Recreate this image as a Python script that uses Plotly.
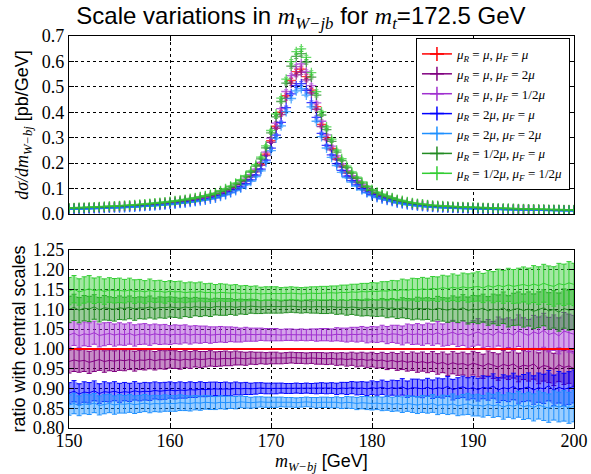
import numpy as np
import plotly.graph_objects as go
from plotly.subplots import make_subplots

# bin centres, 0.5 GeV bins
mass = np.arange(150.0, 200.01, 0.5)

# central prediction dsigma/dm [pb/GeV]
central = [
    0.0210, 0.0216, 0.0222, 0.0228, 0.0235, 0.0242, 0.0250, 0.0258, 0.0266, 0.0275, 0.0285,
    0.0295, 0.0306, 0.0318, 0.0331, 0.0345, 0.0360, 0.0376, 0.0393, 0.0412, 0.0432,
    0.0454, 0.0478, 0.0504, 0.0532, 0.0563, 0.0597, 0.0634, 0.0675, 0.0720, 0.0800,
    0.0870, 0.0960, 0.1060, 0.1180, 0.1320, 0.1490, 0.1700, 0.1960, 0.2350, 0.2880,
    0.3450, 0.4000, 0.4650, 0.5250, 0.5600, 0.5700, 0.5400, 0.4870, 0.4220, 0.3520,
    0.3000, 0.2580, 0.2200, 0.1900, 0.1650, 0.1450, 0.1270, 0.1100, 0.0960, 0.0840,
    0.0750, 0.0680, 0.0620, 0.0560, 0.0500, 0.0460, 0.0420, 0.0390, 0.0360, 0.0340,
    0.0320, 0.0300, 0.0290, 0.0280, 0.0270, 0.0260, 0.0252, 0.0245, 0.0238, 0.0232,
    0.0226, 0.0220, 0.0214, 0.0208, 0.0203, 0.0198, 0.0193, 0.0188, 0.0183, 0.0178,
    0.0174, 0.0170, 0.0166, 0.0162, 0.0158, 0.0154, 0.0151, 0.0148, 0.0145, 0.0142,
]

# relative statistical uncertainty per bin
rel_err = [
    .030, .030, .029, .029, .029, .028, .028, .028, .027, .027, .027,
    .026, .026, .026, .025, .025, .025, .024, .024, .024, .023,
    .023, .023, .022, .022, .021, .021, .020, .020, .019, .019,
    .019, .018, .018, .017, .017, .016, .016, .015, .015, .015,
    .015, .014, .014, .014, .014, .014, .014, .014, .015, .015,
    .015, .015, .016, .016, .017, .017, .018, .018, .019, .019,
    .019, .020, .021, .021, .022, .023, .023, .024, .025, .025,
    .025, .026, .027, .027, .028, .029, .029, .030, .031, .031,
    .032, .032, .033, .034, .035, .036, .036, .037, .038, .038,
    .039, .040, .041, .041, .042, .043, .044, .045, .046, .046,
]

# ratios to the central scale choice
ratio_r1_f2 = [
    .968, .972, .969, .971, .966, .970, .973, .968, .971, .969, .972,
    .970, .973, .969, .972, .971, .974, .970, .973, .972, .974,
    .973, .971, .974, .972, .975, .973, .974, .976, .974, .975,
    .976, .975, .977, .976, .975, .977, .976, .977, .976, .977,
    .977, .976, .977, .978, .977, .977, .976, .977, .976, .976,
    .975, .976, .974, .975, .973, .975, .972, .974, .971, .973,
    .970, .972, .968, .971, .967, .970, .966, .969, .965, .968,
    .964, .968, .962, .966, .960, .965, .961, .963, .958, .964,
    .960, .956, .963, .958, .954, .961, .957, .962, .953, .959,
    .956, .962, .951, .958, .955, .948, .960, .953, .957, .950,
]
ratio_r1_fh = [
    1.035, 1.040, 1.033, 1.038, 1.036, 1.041, 1.034, 1.037, 1.039, 1.035, 1.038,
    1.036, 1.039, 1.034, 1.037, 1.038, 1.035, 1.038, 1.036, 1.037, 1.035,
    1.037, 1.036, 1.038, 1.035, 1.037, 1.036, 1.037, 1.035, 1.036, 1.037,
    1.036, 1.037, 1.036, 1.035, 1.037, 1.036, 1.036, 1.037, 1.036, 1.036,
    1.036, 1.035, 1.036, 1.036, 1.035, 1.036, 1.035, 1.036, 1.035, 1.036,
    1.036, 1.035, 1.037, 1.036, 1.035, 1.037, 1.036, 1.038, 1.035, 1.037,
    1.036, 1.039, 1.035, 1.038, 1.037, 1.034, 1.039, 1.036, 1.038, 1.035,
    1.039, 1.036, 1.041, 1.035, 1.038, 1.042, 1.036, 1.040, 1.034, 1.039,
    1.043, 1.036, 1.040, 1.034, 1.044, 1.038, 1.041, 1.035, 1.046, 1.039,
    1.034, 1.043, 1.038, 1.047, 1.036, 1.041, 1.033, 1.045, 1.040, 1.037,
]
ratio_r2_f1 = [
    .888, .893, .886, .891, .889, .894, .887, .892, .890, .893, .889,
    .892, .890, .894, .891, .893, .892, .895, .893, .894, .896,
    .894, .896, .895, .897, .896, .898, .897, .898, .899, .898,
    .899, .898, .900, .899, .900, .899, .900, .901, .900, .900,
    .900, .901, .900, .900, .901, .900, .901, .900, .900, .901,
    .900, .901, .899, .901, .900, .902, .900, .901, .899, .902,
    .900, .903, .899, .902, .900, .904, .898, .902, .901, .899,
    .903, .898, .902, .900, .905, .897, .901, .904, .899, .902,
    .897, .903, .900, .906, .896, .902, .899, .905, .897, .901,
    .904, .896, .902, .899, .907, .895, .903, .898, .901, .905,
]
ratio_r2_f2 = [
    .858, .862, .856, .861, .859, .863, .857, .860, .862, .858, .861,
    .860, .862, .859, .861, .863, .860, .862, .861, .863, .862,
    .862, .864, .863, .862, .864, .863, .865, .864, .863, .865,
    .864, .865, .864, .866, .865, .864, .865, .866, .865, .865,
    .865, .866, .865, .865, .864, .865, .866, .865, .864, .865,
    .865, .864, .865, .863, .865, .864, .862, .864, .863, .862,
    .863, .861, .863, .860, .862, .859, .862, .860, .858, .861,
    .859, .862, .857, .860, .858, .861, .856, .859, .861, .857,
    .858, .855, .860, .856, .859, .853, .858, .855, .860, .854,
    .857, .852, .858, .854, .850, .857, .853, .856, .851, .855,
]
ratio_rh_f1 = [
    1.100, 1.105, 1.098, 1.103, 1.101, 1.106, 1.099, 1.104, 1.102, 1.100, 1.104,
    1.102, 1.105, 1.101, 1.104, 1.103, 1.106, 1.102, 1.105, 1.104, 1.106,
    1.105, 1.103, 1.106, 1.104, 1.107, 1.105, 1.106, 1.104, 1.107, 1.106,
    1.106, 1.107, 1.105, 1.107, 1.106, 1.108, 1.107, 1.106, 1.107, 1.107,
    1.107, 1.106, 1.107, 1.108, 1.107, 1.106, 1.107, 1.106, 1.107, 1.106,
    1.106, 1.107, 1.105, 1.106, 1.104, 1.106, 1.105, 1.103, 1.105, 1.104,
    1.103, 1.105, 1.102, 1.104, 1.101, 1.104, 1.102, 1.100, 1.103, 1.101,
    1.102, 1.099, 1.103, 1.100, 1.098, 1.102, 1.099, 1.104, 1.097, 1.101,
    1.099, 1.103, 1.096, 1.101, 1.098, 1.104, 1.095, 1.100, 1.102, 1.097,
    1.101, 1.095, 1.099, 1.104, 1.096, 1.100, 1.093, 1.102, 1.098, 1.100,
]
ratio_rh_fh = [
    1.146, 1.151, 1.144, 1.149, 1.152, 1.147, 1.150, 1.145, 1.149, 1.147, 1.148,
    1.146, 1.149, 1.145, 1.147, 1.144, 1.148, 1.145, 1.146, 1.143, 1.146,
    1.144, 1.145, 1.142, 1.144, 1.143, 1.145, 1.142, 1.143, 1.141, 1.143,
    1.142, 1.141, 1.142, 1.140, 1.141, 1.140, 1.141, 1.139, 1.140, 1.140,
    1.140, 1.139, 1.140, 1.141, 1.140, 1.139, 1.140, 1.141, 1.140, 1.141,
    1.141, 1.142, 1.141, 1.143, 1.142, 1.144, 1.143, 1.145, 1.144, 1.146,
    1.145, 1.147, 1.146, 1.149, 1.147, 1.150, 1.148, 1.151, 1.149, 1.152,
    1.150, 1.153, 1.151, 1.155, 1.152, 1.156, 1.153, 1.157, 1.154, 1.156,
    1.158, 1.154, 1.160, 1.156, 1.161, 1.157, 1.162, 1.158, 1.160, 1.163,
    1.159, 1.164, 1.160, 1.166, 1.161, 1.158, 1.165, 1.162, 1.167, 1.163,
]

labels = [
    "<i>μ<sub>R</sub></i> = <i>μ</i>, <i>μ<sub>F</sub></i> = <i>μ</i>",
    "<i>μ<sub>R</sub></i> = <i>μ</i>, <i>μ<sub>F</sub></i> = 2<i>μ</i>",
    "<i>μ<sub>R</sub></i> = <i>μ</i>, <i>μ<sub>F</sub></i> = 1/2<i>μ</i>",
    "<i>μ<sub>R</sub></i> = 2<i>μ</i>, <i>μ<sub>F</sub></i> = <i>μ</i>",
    "<i>μ<sub>R</sub></i> = 2<i>μ</i>, <i>μ<sub>F</sub></i> = 2<i>μ</i>",
    "<i>μ<sub>R</sub></i> = 1/2<i>μ</i>, <i>μ<sub>F</sub></i> = <i>μ</i>",
    "<i>μ<sub>R</sub></i> = 1/2<i>μ</i>, <i>μ<sub>F</sub></i> = 1/2<i>μ</i>",
]
colors = ["#FF0000", "#800080", "#A030D0", "#0000FF", "#1E90FF", "#228B22", "#32CD32"]
ratios = [[1.0] * len(central), ratio_r1_f2, ratio_r1_fh, ratio_r2_f1,
          ratio_r2_f2, ratio_rh_f1, ratio_rh_fh]

SERIF = "Liberation Serif"
SANS = "Liberation Sans"


def rgba(hexcol, a):
    h = hexcol.lstrip("#")
    return f"rgba({int(h[0:2], 16)},{int(h[2:4], 16)},{int(h[4:6], 16)},{a})"


def math(s):
    return f"<span style=\"font-family:'Liberation Serif'\">{s}</span>"


fig = make_subplots(rows=2, cols=1)

central = np.array(central)
rel_err = np.array(rel_err)

for idx, (lab, col, rat) in enumerate(zip(labels, colors, ratios)):
    rat = np.array(rat)
    yval = central * rat
    # top panel: spectra with error bars
    fig.add_trace(go.Scatter(
        x=mass, y=yval, mode="markers",
        marker=dict(symbol="cross-thin", size=7, line=dict(color=col, width=1.3), color=col),
        error_y=dict(type="data", array=yval * rel_err, color=col, thickness=1, width=2),
        error_x=dict(type="constant", value=0.25, color=col, thickness=1, width=0),
        opacity=0.75, showlegend=False, hoverinfo="skip",
    ), row=1, col=1)

    # legend entry
    fig.add_trace(go.Scatter(
        x=[None], y=[None], mode="lines+markers", name=lab,
        line=dict(color=col, width=1.5),
        marker=dict(symbol="cross-thin", size=10, line=dict(color=col, width=1.5)),
    ), row=1, col=1)

    if idx == 0:
        continue
    # bottom panel: ratio band
    err = rat * rel_err
    fig.add_trace(go.Scatter(
        x=mass, y=rat - err, mode="lines", line=dict(width=0, color=col),
        showlegend=False, hoverinfo="skip",
    ), row=2, col=1)
    fig.add_trace(go.Scatter(
        x=mass, y=rat + err, mode="lines", line=dict(width=0, color=col),
        fill="tonexty", fillcolor=rgba(col, 0.45),
        showlegend=False, hoverinfo="skip",
    ), row=2, col=1)
    fig.add_trace(go.Scatter(
        x=mass, y=rat, mode="lines", line=dict(color=col, width=1),
        error_y=dict(type="data", array=err, color=col, thickness=1, width=2.5),
        showlegend=False, hoverinfo="skip",
    ), row=2, col=1)

# central ratio on top so it stays visible
fig.add_trace(go.Scatter(
    x=mass, y=ratios[0], mode="lines", line=dict(color=colors[0], width=2),
    showlegend=False, hoverinfo="skip",
), row=2, col=1)

axis_common = dict(
    showline=True, linecolor="black", linewidth=1.2, mirror="ticks",
    ticks="inside", ticklen=5, tickcolor="black", automargin=False,
    showgrid=True, gridcolor="black", gridwidth=1, griddash="dot",
    zeroline=False, tickfont=dict(family=SERIF, size=18, color="black"),
)

fig.update_xaxes(**axis_common, range=[150, 200], dtick=10, tick0=150)
fig.update_xaxes(showticklabels=False, row=1, col=1)
fig.update_xaxes(ticklabelstandoff=-4, row=2, col=1)
fig.update_yaxes(**axis_common)
fig.update_yaxes(
    range=[0, 0.7], dtick=0.1, tickformat=".1f", domain=[0.546, 1.0],
    title=dict(text=math("<i>dσ/dm</i><sub><i>W−bj</i></sub>") + " [pb/GeV]",
               font=dict(family=SANS, size=18, color="black"), standoff=8),
    row=1, col=1,
)
fig.update_yaxes(
    range=[0.80, 1.25], dtick=0.05, tickformat=".2f", domain=[0.0, 0.454],
    title=dict(text="ratio with central scales",
               font=dict(family=SANS, size=18, color="black"), standoff=2),
    row=2, col=1,
)

# x axis title of the ratio panel
fig.add_annotation(
    text=math("<i>m</i><sub><i>W−bj</i></sub>") + " [GeV]",
    xref="paper", yref="paper", x=0.5, y=-34 / 392,
    xanchor="center", yanchor="middle", showarrow=False,
    font=dict(family=SANS, size=18, color="black"),
)

fig.update_layout(
    width=591, height=474,
    margin=dict(l=69, r=17, t=36, b=46),
    paper_bgcolor="white", plot_bgcolor="white",
    title=dict(
        text="Scale variations in " + math("<i>m</i><sub><i>W−jb</i></sub>")
             + " for " + math("<i>m</i><sub><i>t</i></sub>") + "=172.5 GeV",
        font=dict(family=SANS, size=24, color="black"),
        x=301 / 591, xref="container", xanchor="center",
        y=1 - 16 / 474, yref="container", yanchor="middle",
    ),
    legend=dict(
        x=0.992, y=0.995, xanchor="right", yanchor="top",
        bgcolor="white", bordercolor="black", borderwidth=1,
        font=dict(family=SERIF, size=13, color="black"),
        itemwidth=30, tracegroupgap=0, traceorder="normal",
    ),
    showlegend=True,
)

# drop the default page margin so the figure sits at the window origin
fig.write_html("out.html", config={"displayModeBar": False},
               post_script="document.body.style.margin='0';")
